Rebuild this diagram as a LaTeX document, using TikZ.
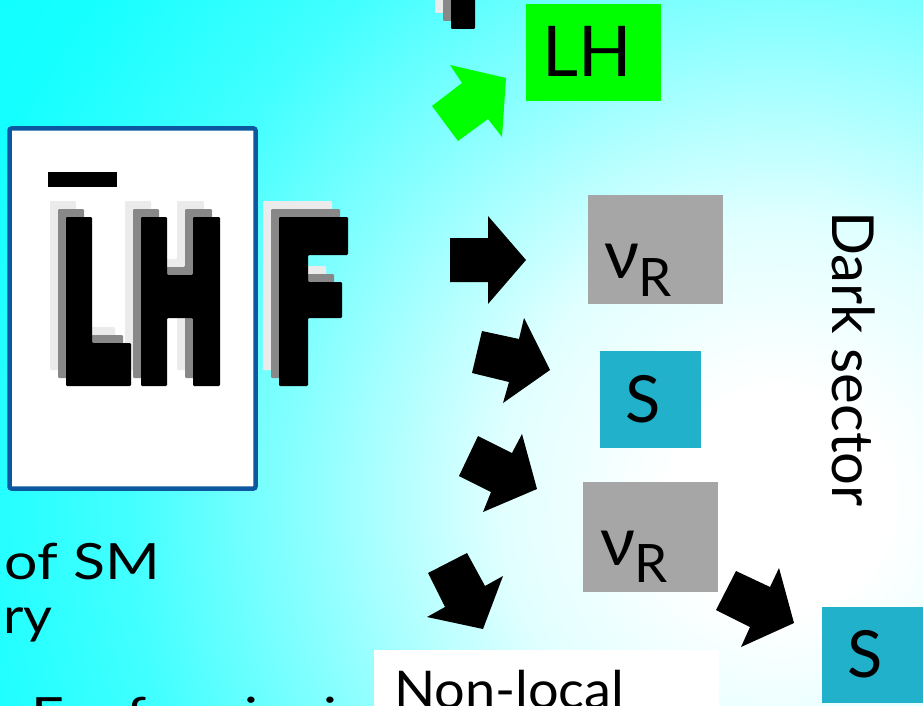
\documentclass[tikz,border=0pt]{standalone}
\usepackage{fontspec}
\setmainfont{Lato}
\definecolor{lhgreen}{HTML}{00FF00}
\definecolor{boxgray}{HTML}{A6A6A6}
\definecolor{boxteal}{HTML}{21B1CB}
\definecolor{frameblue}{RGB}{12,88,160}
\definecolor{shadelight}{HTML}{EBEBEB}
\definecolor{shadedark}{HTML}{888888}
\pgfdeclareradialshading{bgsh}{\pgfpoint{0bp}{0bp}}{color(0bp)=(white); color(110bp)=(white); color(280bp)=(cyan!12!white); color(470bp)=(cyan!45!white); color(650bp)=(cyan!74!white); color(850bp)=(cyan!92!white); color(1100bp)=(cyan!95!white)}
\tikzset{
  box/.style={draw=none, inner sep=0pt, outer sep=0pt},
  lbl/.style={inner sep=0pt, outer sep=0pt, text=black},
  blockarrow/.style={fill=black},
  letterpath/.style={rounded corners=1.2pt}
}
\newcommand{\lhfletters}[1]{%
  \fill[#1,letterpath] (66,217) -- (92,217) -- (92,343) -- (131,343) -- (131,386) -- (66,386) -- cycle;
  \fill[#1,letterpath] (141,217) -- (167,217) -- (167,275) -- (193,275) -- (193,217) -- (220,217) -- (220,386) -- (193,386) -- (193,318) -- (167,318) -- (167,386) -- (141,386) -- cycle;
  \fill[#1,letterpath] (279,217) -- (348,217) -- (348,255) -- (308,255) -- (308,282) -- (342,282) -- (342,318) -- (308,318) -- (308,386) -- (279,386) -- cycle;
  \fill[#1,letterpath] (451,-8) -- (475,-8) -- (475,29) -- (451,29) -- cycle;
}
\begin{document}
\begin{tikzpicture}[x=1pt,y=-1pt]
\useasboundingbox (0,0) rectangle (923,706);
\begin{scope}
  \clip (0,0) rectangle (923,706);
  \node[inner sep=0pt] (bg) at (780,500) {\pgfuseshading{bgsh}};
\end{scope}
% white frame
\node[box, draw=frameblue, line width=4.5pt, fill=white, rounded corners=2pt,
      minimum width=246pt, minimum height=360pt] (lhfbox) at (132.5,308.5) {};
% letters with shadows
\begin{scope}
  \clip (0,0) rectangle (923,706);
  \begin{scope}[shift={(-16,-16)}]\lhfletters{shadelight}\end{scope}
  \begin{scope}[shift={(-8,-8)}]\lhfletters{shadedark}\end{scope}
  \lhfletters{black}
\end{scope}
\fill[black] (48,172) rectangle (117,187);
% green arrow
\fill[lhgreen] (450,65) -- (506,78) -- (502,137) -- (488,119) -- (458,141) -- (432,106) -- (462,83) -- cycle;
% black arrows
\fill[blockarrow] (450,238) -- (488,238) -- (488,216) -- (526,260) -- (488,304) -- (488,282) -- (450,282) -- cycle;
\fill[blockarrow] (482,331) -- (519,339) -- (524,318) -- (550,370) -- (503,403) -- (509,382) -- (472,373) -- cycle;
\fill[blockarrow] (478,436) -- (512,453) -- (522,434) -- (537,489) -- (483,512) -- (491,492) -- (459,476) -- cycle;
\fill[blockarrow] (467,553) -- (485,586) -- (503,576) -- (483,629) -- (427,617) -- (445,607) -- (428,573) -- cycle;
\fill[blockarrow] (736,571) -- (770,587) -- (779,568) -- (794,623) -- (741,647) -- (750,627) -- (716,610) -- cycle;
% boxes
\node[box, fill=lhgreen, minimum width=135pt, minimum height=97pt] (lhbox) at (593.5,52.5) {};
\node[box, fill=boxgray, minimum width=135pt, minimum height=109pt] (nubox1) at (655.5,249.5) {};
\node[box, fill=boxteal, minimum width=101pt, minimum height=97pt] (sbox1) at (650.5,399.5) {};
\node[box, fill=boxgray, minimum width=135pt, minimum height=110pt] (nubox2) at (650.5,537) {};
\node[box, fill=boxteal, minimum width=101pt, minimum height=96pt] (sbox2) at (872.5,655) {};
\node[box, fill=white, minimum width=345pt, minimum height=56pt] (nlbox) at (546.5,678) {};
% texts
\begin{scope}
\clip (0,0) rectangle (923,706);
\node[lbl, anchor=base, font=\fontsize{70}{80}\selectfont] (lhtext) at (587,77) {LH};
\node[lbl, anchor=base west] (nu1) at (604,278) {\fontsize{68}{72}\selectfont ν\fontsize{53}{60}\selectfont\raisebox{-18pt}{R}};
\node[lbl, anchor=base, font=\fontsize{65}{70}\selectfont] (s1) at (643,422) {S};
\node[lbl, anchor=base west] (nu2) at (600,565) {\fontsize{68}{72}\selectfont ν\fontsize{53}{60}\selectfont\raisebox{-17pt}{R}};
\node[lbl, anchor=base, font=\fontsize{65}{70}\selectfont] (s2) at (865,677) {S};
\node[lbl, anchor=base west, font=\fontsize{52}{60}\selectfont] (nonlocal) at (394,708) {\scalebox{1.04}[1]{Non-local}};
\node[lbl, anchor=base west, rotate=-90, font=\fontsize{58}{64}\selectfont] (dark) at (832,211) {Dark sector};
\node[lbl, anchor=base west, font=\fontsize{50}{56}\selectfont] (ofsm) at (5,579) {\scalebox{1.18}[1]{of SM}};
\node[lbl, anchor=base west, font=\fontsize{50}{56}\selectfont] (ry) at (3,633) {\scalebox{1.12}[1]{ry}};
\node[lbl, anchor=base west, font=\fontsize{50}{56}\selectfont] (fline) at (31,733) {\scalebox{1.15}[1]{F\hspace{16pt}--\hspace{10pt}fermionic}};
\end{scope}
\end{tikzpicture}
\end{document}
